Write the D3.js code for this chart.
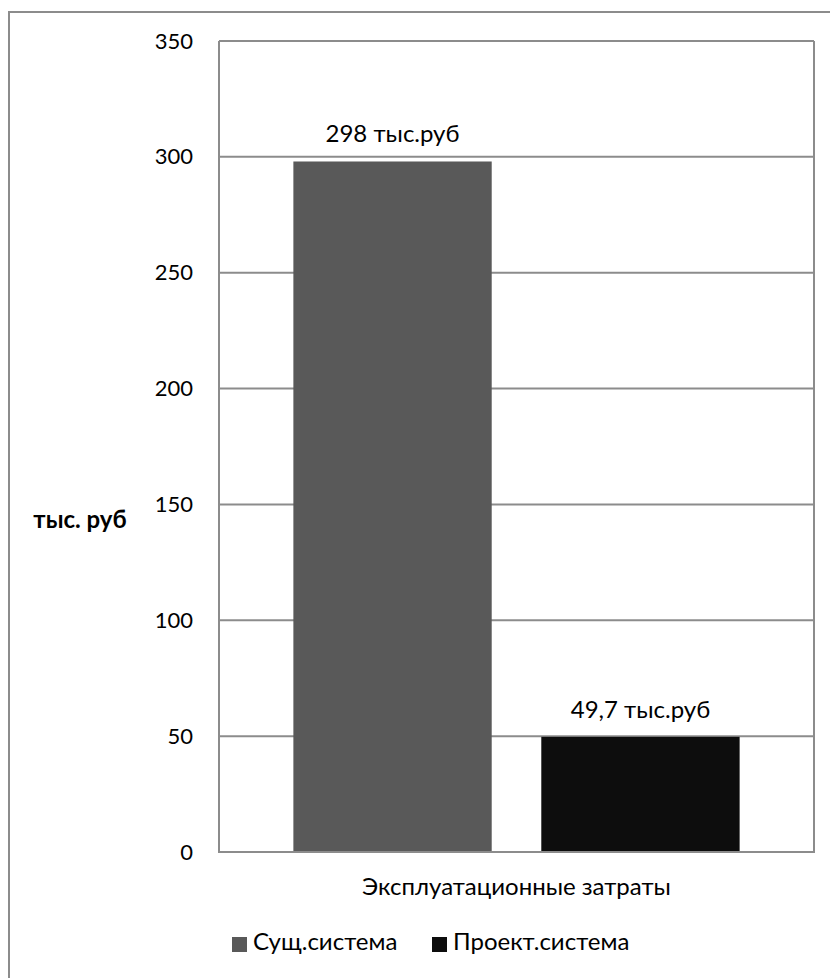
<!DOCTYPE html>
<html>
<head>
<meta charset="utf-8">
<script src="https://cdn.jsdelivr.net/npm/d3@7"></script>
<style>
  html, body { margin: 0; padding: 0; background: #fff; }
  svg { display: block; }
  text { font-family: Lato, "Open Sans", sans-serif; fill: #000; }
</style>
</head>
<body>
<svg id="chart" width="830" height="978"></svg>
<script>
// Operating costs, thousand rubles
const categories = ["Эксплуатационные затраты"];
const seriesNames = ["Сущ.система", "Проект.система"];
const seriesValues = [298, 49.7];
const valueLabels = ["298 тыс.руб", "49,7 тыс.руб"];
const seriesColors = ["#595959", "#0d0d0d"];
const yTicks = [0, 50, 100, 150, 200, 250, 300, 350];
const yTitle = "тыс. руб";

const svg = d3.select("#chart");
const plot = { left: 219, right: 814, top: 41, bottom: 852 };

// outer chart frame (runs off the right and bottom of the page)
svg.append("rect")
  .attr("x", 9).attr("y", 12).attr("width", 900).attr("height", 1000)
  .attr("fill", "none").attr("stroke", "#8c8c8c").attr("stroke-width", 2);

const y = d3.scaleLinear().domain([0, 350]).range([plot.bottom, plot.top]);
const x = d3.scaleBand().domain(categories).range([plot.left, plot.right]);
const xs = d3.scaleBand().domain(seriesNames)
  .range([plot.left, plot.right]).paddingInner(0.2).paddingOuter(0.3);

// gridlines
svg.append("g").selectAll("line").data(yTicks).join("line")
  .attr("x1", plot.left).attr("x2", plot.right)
  .attr("y1", d => y(d)).attr("y2", d => y(d))
  .attr("stroke", "#8c8c8c").attr("stroke-width", 2);

// y axis labels
const yAxis = d3.axisLeft(y).tickValues(yTicks).tickSize(0).tickPadding(26);
const ya = svg.append("g").attr("transform", `translate(${plot.left},0)`).call(yAxis);
ya.select(".domain").remove();
ya.selectAll("text").attr("font-size", 22).attr("font-family", "Lato, sans-serif").attr("fill", "#000");

// bars
svg.append("g").selectAll("rect").data(seriesValues).join("rect")
  .attr("x", (d, i) => xs(seriesNames[i]))
  .attr("width", xs.bandwidth())
  .attr("y", d => y(d))
  .attr("height", d => y(0) - y(d))
  .attr("fill", (d, i) => seriesColors[i]);

// value labels
svg.append("g").selectAll("text").data(seriesValues).join("text")
  .attr("x", (d, i) => xs(seriesNames[i]) + xs.bandwidth() / 2)
  .attr("y", d => y(d) - 19)
  .attr("text-anchor", "middle").attr("font-size", 24)
  .text((d, i) => valueLabels[i]);

// plot border: left, right and baseline
svg.append("path")
  .attr("d", `M${plot.left},${plot.top}V${plot.bottom}H${plot.right}V${plot.top}`)
  .attr("fill", "none").attr("stroke", "#8c8c8c").attr("stroke-width", 2);

// category label
svg.append("text")
  .attr("x", x(categories[0]) + x.bandwidth() / 2).attr("y", 895)
  .attr("text-anchor", "middle").attr("font-size", 24)
  .text(categories[0]);

// y title
svg.append("text")
  .attr("x", 80).attr("y", 528)
  .attr("text-anchor", "middle").attr("font-size", 24).attr("font-weight", "bold")
  .text(yTitle);

// legend
const legendX = [232, 432];
const lg = svg.append("g").selectAll("g").data(seriesNames).join("g")
  .attr("transform", (d, i) => `translate(${legendX[i]},937)`);
lg.append("rect").attr("width", 15).attr("height", 15).attr("fill", (d, i) => seriesColors[i]);
lg.append("text").attr("x", 21).attr("y", 13).attr("font-size", 24).text(d => d);
</script>
</body>
</html>
